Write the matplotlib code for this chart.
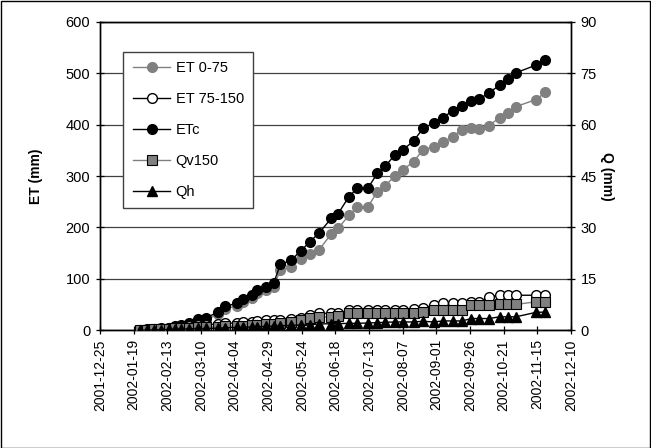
import numpy as np
import pandas as pd
import matplotlib
matplotlib.use("Agg")
import matplotlib.pyplot as plt
import matplotlib.dates as mdates
from matplotlib.patches import Rectangle

plt.rcParams['font.family'] = ['Liberation Sans', 'DejaVu Sans']

dates = ["2002-01-24", "2002-01-29", "2002-02-03", "2002-02-08", "2002-02-14", "2002-02-19",
         "2002-02-23", "2002-03-01", "2002-03-08", "2002-03-14", "2002-03-23", "2002-03-28",
         "2002-04-06", "2002-04-10", "2002-04-17", "2002-04-21", "2002-04-27", "2002-05-03",
         "2002-05-08", "2002-05-16", "2002-05-23", "2002-05-30", "2002-06-06", "2002-06-15",
         "2002-06-20", "2002-06-28", "2002-07-04", "2002-07-12", "2002-07-19", "2002-07-25",
         "2002-08-01", "2002-08-07", "2002-08-15", "2002-08-22", "2002-08-30", "2002-09-06",
         "2002-09-13", "2002-09-20", "2002-09-27", "2002-10-03", "2002-10-10", "2002-10-18",
         "2002-10-24", "2002-10-30", "2002-11-14", "2002-11-21"]

et_0_75 = [0, 1, 2, 3, 4, 6, 8, 10, 17, 20, 32, 42, 47, 55, 63, 72, 78, 85,
           117, 123, 138, 149, 157, 188, 198, 224, 239, 240, 269, 281, 300, 312,
           328, 351, 357, 366, 377, 390, 393, 392, 398, 414, 423, 435, 449, 463]

etc = [0, 1, 2, 3, 5, 8, 10, 13, 21, 24, 36, 47, 52, 60, 68, 78, 84, 91,
       128, 136, 154, 172, 190, 218, 227, 260, 276, 276, 305, 319, 341, 351,
       368, 393, 403, 414, 427, 437, 447, 450, 462, 477, 488, 501, 516, 526]

et_75_150 = [0, 0.2, 0.4, 0.5, 0.7, 0.9, 1.0, 1.2, 1.4, 1.6, 1.8, 2.0, 2.1, 2.3, 2.5,
             2.7, 2.9, 3.0, 3.1, 3.4, 3.7, 4.3, 4.9, 4.9, 5.0, 5.8, 5.8, 5.8, 5.8,
             5.9, 6.0, 6.0, 6.3, 6.5, 7.3, 7.8, 7.8, 7.8, 8.3, 8.3, 9.7, 10.2, 10.2,
             10.2, 10.2, 10.2]

qv150 = [0, 0.1, 0.2, 0.3, 0.4, 0.5, 0.6, 0.7, 0.8, 0.9, 1.0, 1.1, 1.2, 1.3, 1.5,
         1.6, 1.7, 1.9, 2.0, 2.5, 2.9, 3.7, 3.8, 3.9, 4.0, 4.9, 4.9, 5.0, 5.0,
         5.0, 5.0, 5.1, 5.1, 5.4, 5.8, 6.0, 6.0, 6.0, 7.3, 7.3, 7.3, 7.5, 7.5,
         7.5, 8.3, 8.3]

qh = [0, 0, 0.1, 0.1, 0.2, 0.3, 0.3, 0.4, 0.5, 0.5, 0.6, 0.7, 0.8, 0.9, 0.9,
      1.0, 1.1, 1.2, 1.3, 1.4, 1.5, 1.6, 1.8, 1.9, 1.9, 2.0, 2.0, 2.1, 2.2,
      2.3, 2.4, 2.4, 2.4, 2.6, 2.4, 2.7, 2.7, 2.7, 3.4, 3.4, 3.4, 3.9, 3.9,
      3.9, 5.2, 5.3]

x = pd.to_datetime(dates)

fig = plt.figure(figsize=(6.51, 4.48), dpi=100)
ax = fig.add_axes([0.1536, 0.263, 0.7235, 0.688])
ax2 = ax.twinx()

gray = '#808080'
ms = 7
l1, = ax.plot(x, et_0_75, color=gray, marker='o', ms=ms, mfc=gray, mec=gray, lw=1.0, label='ET 0-75', zorder=3)
l3, = ax.plot(x, etc, color='black', marker='o', ms=ms, mfc='black', mec='black', lw=1.0, label='ETc', zorder=4)
l2, = ax2.plot(x, et_75_150, color='black', marker='o', ms=ms, mfc='white', mec='black', mew=1.0, lw=1.0, label='ET 75-150', zorder=3)
l4, = ax2.plot(x, qv150, color=gray, marker='s', ms=ms - 0.5, mfc=gray, mec='black', mew=0.8, lw=1.0, label='Qv150', zorder=4)
l5, = ax2.plot(x, qh, color='black', marker='^', ms=ms, mfc='black', mec='black', lw=1.0, label='Qh', zorder=5)

start = pd.Timestamp("2001-12-25")
end = pd.Timestamp("2002-12-10")
ax.set_xlim(start, end)
ticks = pd.date_range(start, end, freq='25D')
ax.set_xticks(ticks)
ax.xaxis.set_major_formatter(mdates.DateFormatter('%Y-%m-%d'))

ax.set_ylim(0, 600)
ax.set_yticks(np.arange(0, 601, 100))
ax2.set_ylim(0, 90)
ax2.set_yticks(np.arange(0, 91, 15))

ax.grid(axis='y', color='#404040', lw=0.9)
ax.set_axisbelow(True)

for a in (ax, ax2):
    a.tick_params(axis='both', direction='inout', length=6, width=0.9, labelsize=10.5)
    for s in a.spines.values():
        s.set_linewidth(1.0)
ax.tick_params(axis='y', pad=4)
ax2.tick_params(axis='y', pad=4)
for lab in ax.get_xticklabels():
    lab.set_rotation(90)
    lab.set_fontsize(10)

ax.set_ylabel('ET (mm)', fontsize=10, fontweight='bold', labelpad=16)
ax2.set_ylabel('Q (mm)', fontsize=10, fontweight='bold', rotation=-90, labelpad=12)

leg = ax2.legend(handles=[l1, l2, l3, l4, l5], loc='upper left',
                 bbox_to_anchor=(0.049, 0.903), borderaxespad=0, fontsize=10.5, frameon=True,
                 fancybox=False, edgecolor='#404040', framealpha=1,
                 handlelength=2.6, labelspacing=1.16, borderpad=0.65, handletextpad=0.35)
leg.get_frame().set_linewidth(1.0)

fig.patches.append(Rectangle((0.001, 0.001), 0.997, 0.997, transform=fig.transFigure,
                             fill=False, edgecolor='black', lw=1.0))

fig.savefig('out.png', dpi=100)
